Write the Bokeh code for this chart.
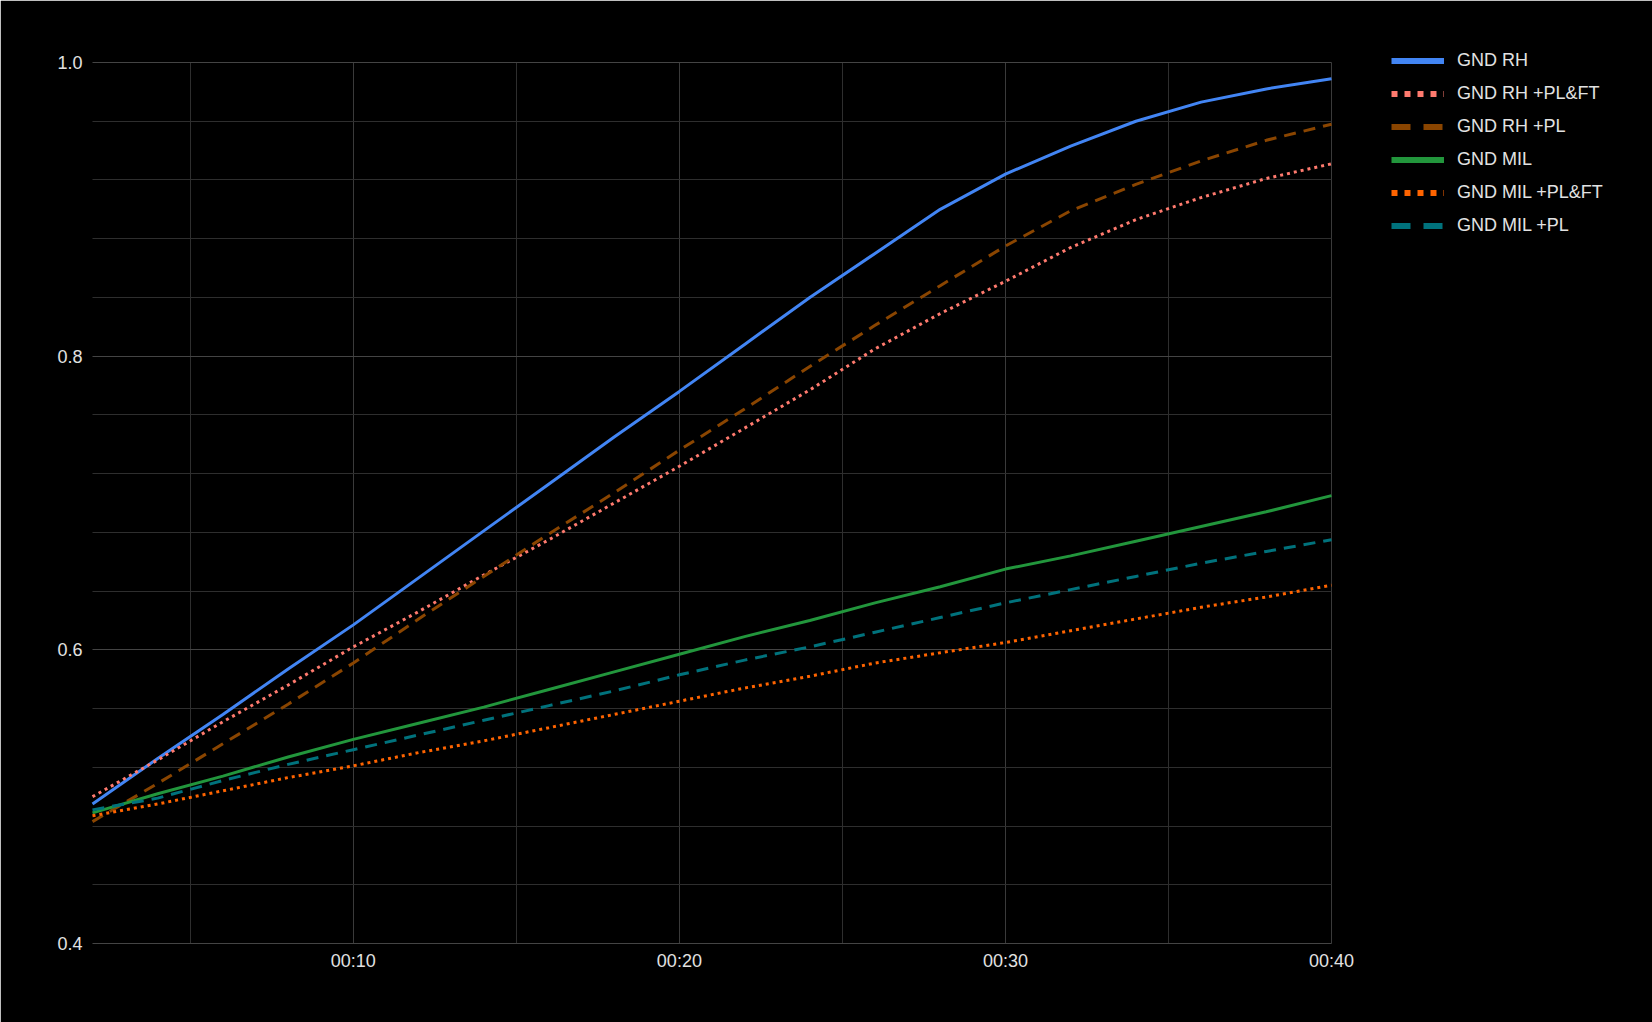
from bokeh.plotting import figure
from bokeh.models import Range1d, FixedTicker, Legend, LegendItem
from bokeh.embed import file_html
from bokeh.resources import INLINE

# ---- data (elapsed seconds) ----
seconds = [2, 4, 6, 8, 10, 12, 14, 16, 18, 20, 22, 24, 26, 28, 30, 32, 34, 36, 38, 40]
gnd_rh = [0.495, 0.526, 0.556, 0.587, 0.617, 0.649, 0.681, 0.713, 0.745, 0.776,
          0.808, 0.840, 0.870, 0.900, 0.924, 0.943, 0.960, 0.973, 0.982, 0.989]
gnd_rh_pl_ft = [0.500, 0.525, 0.551, 0.576, 0.602, 0.626, 0.651, 0.675, 0.700, 0.725,
                0.751, 0.777, 0.805, 0.829, 0.851, 0.874, 0.893, 0.908, 0.921, 0.931]
gnd_rh_pl = [0.483, 0.509, 0.536, 0.563, 0.591, 0.621, 0.650, 0.679, 0.707, 0.736,
             0.764, 0.793, 0.821, 0.848, 0.875, 0.899, 0.917, 0.933, 0.947, 0.958]
gnd_mil = [0.489, 0.502, 0.514, 0.527, 0.539, 0.550, 0.561, 0.573, 0.585, 0.597,
           0.609, 0.620, 0.632, 0.643, 0.655, 0.664, 0.674, 0.684, 0.694, 0.705]
gnd_mil_pl_ft = [0.487, 0.495, 0.504, 0.513, 0.521, 0.530, 0.538, 0.547, 0.556, 0.565,
                 0.574, 0.582, 0.591, 0.598, 0.605, 0.613, 0.621, 0.629, 0.636, 0.644]
gnd_mil_pl = [0.491, 0.499, 0.511, 0.522, 0.532, 0.542, 0.552, 0.562, 0.572, 0.583,
              0.593, 0.602, 0.612, 0.622, 0.632, 0.641, 0.650, 0.659, 0.667, 0.675]

series_names = ["GND RH", "GND RH +PL&FT", "GND RH +PL", "GND MIL", "GND MIL +PL&FT", "GND MIL +PL"]
series_values = [gnd_rh, gnd_rh_pl_ft, gnd_rh_pl, gnd_mil, gnd_mil_pl_ft, gnd_mil_pl]
series_colors = ["#4285f4", "#ff7a6e", "#8a4500", "#22963c", "#ff6400", "#00727c"]
series_dash = ["solid", "3 4", "12 8", "solid", "3 4", "12 8"]
legend_dash = ["solid", "6 7", "19 13", "solid", "6 7", "19 13"]

x_start, x_end = 2, 40
y_start, y_end = 0.4, 1.0
x_ticks = [10, 20, 30, 40]
x_tick_labels = ["00:10", "00:20", "00:30", "00:40"]
x_minor_ticks = [5, 15, 25, 35]
y_ticks = [0.4, 0.6, 0.8, 1.0]
y_tick_labels = ["0.4", "0.6", "0.8", "1.0"]
y_minor_ticks = [0.44, 0.48, 0.52, 0.56, 0.64, 0.68, 0.72, 0.76, 0.84, 0.88, 0.92, 0.96]

FONT = "Liberation Sans"
TEXT = "#e2e2e2"

# layout (pixels): data area spans x 92..1331, y 62..943; the (invisible) frame is a bit
# larger so that the legend can sit outside the data area and frame edges stay hidden.
W, H = 1652, 1022
AREA_L, AREA_R, AREA_T, AREA_B = 92, 1331, 62, 943
FRAME_L, FRAME_R, FRAME_T, FRAME_B = 86, W, 20, 950
px_x = (x_end - x_start) / (AREA_R - AREA_L)
px_y = (y_end - y_start) / (AREA_B - AREA_T)
xr = Range1d(x_start - (AREA_L - FRAME_L) * px_x, x_end + (FRAME_R - AREA_R) * px_x)
yr = Range1d(y_start - (FRAME_B - AREA_B) * px_y, y_end + (AREA_T - FRAME_T) * px_y)

p = figure(width=W, height=H, output_backend="svg", toolbar_location=None,
           x_range=xr, y_range=yr,
           min_border_left=FRAME_L, min_border_right=W - FRAME_R, min_border_top=FRAME_T,
           min_border_bottom=H - FRAME_B)
p.background_fill_color = "black"
p.border_fill_color = "black"
p.outline_line_color = "black"
p.outline_line_width = 2

p.xaxis.ticker = FixedTicker(ticks=x_ticks, minor_ticks=x_minor_ticks)
p.xaxis.major_label_overrides = {t: s for t, s in zip(x_ticks, x_tick_labels)}
p.yaxis.ticker = FixedTicker(ticks=y_ticks, minor_ticks=y_minor_ticks)
p.yaxis.major_label_overrides = {t: s for t, s in zip(y_ticks, y_tick_labels)}

for ax in (p.xaxis, p.yaxis):
    ax.axis_line_color = None
    ax.major_tick_line_color = None
    ax.minor_tick_line_color = None
    ax.major_tick_out = 0
    ax.major_tick_in = 0
    ax.minor_tick_out = 0
    ax.major_label_text_font = FONT
    ax.major_label_text_font_size = "18px"
    ax.major_label_text_color = TEXT
p.xaxis.major_label_standoff = 0
p.yaxis.major_label_standoff = 4

p.xgrid.grid_line_color = "#3a3a3a"
p.xgrid.minor_grid_line_color = "#2e2e2e"
p.xgrid.cross_bounds = (y_start, y_end)
p.ygrid.grid_line_color = "#444444"
p.ygrid.minor_grid_line_color = "#2e2e2e"
p.ygrid.cross_bounds = (x_start, x_end)

# off-screen sample used only to draw the (thicker) legend swatches
swatch_x = [-20, -19]
swatch_y = [0, 0]

items = []
for name, vals, col, dash, ldash in zip(series_names, series_values, series_colors,
                                         series_dash, legend_dash):
    p.line(seconds, vals, line_color=col, line_width=3, line_dash=dash, line_cap="butt")
    dummy = p.line(swatch_x, swatch_y, line_color=col, line_width=6, line_dash=ldash,
                   line_cap="butt")
    items.append(LegendItem(label=name, renderers=[dummy]))

# legend position in frame pixels (from frame bottom-left)
legend = Legend(items=items, location=(1391 - FRAME_L, FRAME_B - 242), padding=0, margin=0,
                spacing=0, glyph_width=53, glyph_height=33, label_height=33, label_standoff=13,
                label_text_font=FONT, label_text_font_size="18px", label_text_color=TEXT,
                border_line_color=None, background_fill_alpha=0)
p.add_layout(legend, "center")

open("out.html", "w").write(file_html(p, INLINE))
